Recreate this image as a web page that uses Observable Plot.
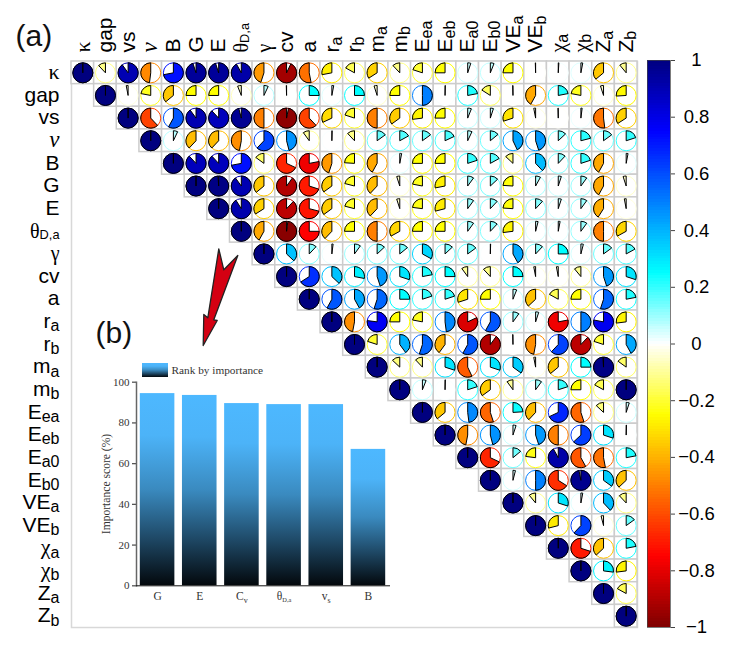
<!DOCTYPE html>
<html><head><meta charset="utf-8">
<script src="https://cdn.jsdelivr.net/npm/d3@7"></script>
<script src="https://cdn.jsdelivr.net/npm/@observablehq/plot@0.6"></script>
<style>
html,body{margin:0;padding:0;background:#fff}
#chart{position:relative;width:729px;height:651px;overflow:hidden}
#chart svg{position:absolute;max-width:none;background:transparent}
</style></head><body><div id="chart"></div>
<script>
// ---- labels
const labelMain = ["κ","gap","vs","ν","B","G","E","θ","γ","cv","a","r","r","m","m","E","E","E","E","VE","VE","χ","χ","Z","Z"];
const labelSub  = ["","","","","","","","D,a","","","","a","b","a","b","ea","eb","a0","b0","a","b","a","b","a","b"];
const keys = labelMain.map((m,i)=>m+labelSub[i]);

// ---- correlation rows, each starting on the diagonal
const rowKappa = [1,-.12,.9,-.48,.72,.95,.95,.92,-.45,-.93,-.53,-.28,-.17,-.34,-.12,-.2,-.25,.05,.06,-.25,-.005,.01,.03,-.36,-.11];
const rowGap   = [1,-.03,-.22,-.36,-.25,-.25,-.06,.07,-.005,.25,.03,.25,-.05,-.25,.5,.005,.22,-.16,-.005,-.42,.22,-.22,-.05,-.26];
const rowVs    = [1,-.62,.58,.9,.88,.96,-.5,-.97,-.62,-.32,-.2,-.5,-.35,-.27,-.25,.06,.05,-.3,-.03,-.005,.02,-.52,-.34];
const rowNu    = [1,.07,-.38,-.38,-.47,.62,.46,-.1,.005,-.12,.15,.17,.15,.18,.07,.14,.43,.45,.13,.21,.15,.2];
const rowB     = [1,.88,.88,.72,-.15,-.68,-.78,-.45,-.24,-.42,.03,-.25,-.25,.2,.17,-.13,.38,.12,.2,-.42,.03];
const rowG     = [1,.99,.9,-.36,-.9,-.7,-.35,-.21,-.38,-.05,-.22,-.28,.1,.13,-.24,.08,.05,.1,-.42,-.05];
const rowE     = [1,.91,-.34,-.88,-.71,-.35,-.21,-.38,-.05,-.23,-.29,.1,.12,-.24,.12,.05,.1,-.41,-.03];
const rowTheta = [1,-.42,-.98,-.75,-.38,-.25,-.5,-.33,-.25,-.25,.1,.12,-.27,.04,.03,.1,-.5,-.33];
const rowGamma = [1,.37,.12,.02,.1,.13,.14,.33,.13,.15,.005,.42,.12,.25,.04,.15,.17];
const rowCv    = [1,.66,.37,.28,.45,.3,.22,.25,-.1,-.12,.25,-.03,-.03,-.11,.45,.3];
const rowA     = [1,.58,.42,.55,.25,.2,.2,-.3,-.25,.06,-.37,-.17,-.25,.55,.22];
const rowRa    = [1,-.47,.77,-.25,-.22,.48,-.82,.58,.1,.05,-.78,.5,.78,-.27];
const rowRb    = [1,-.2,.4,.55,-.4,.58,-.9,-.005,-.47,.62,-.88,-.2,.42];
const rowMa    = [1,-.13,-.12,.3,-.57,.3,.35,-.03,-.36,.25,.99,-.15];
const rowMb    = [1,.06,.005,.2,-.35,-.1,.1,.2,-.25,-.17,1];
const rowEea   = [1,-.36,.48,-.55,.24,-.38,.68,-.55,-.13,.05];
const rowEeb   = [1,-.47,.46,.05,.45,-.5,.63,.3,.005];
const rowEa0   = [1,-.68,.14,-.23,.92,-.58,-.53,.22];
const rowEb0   = [1,.04,.5,-.66,.97,.35,-.37];
const rowVEa   = [1,-.11,.3,.03,.38,-.12];
const rowVEb   = [1,-.29,.62,-.04,.15];
const rowXa    = [1,-.7,-.37,.22];
const rowXb    = [1,.27,-.27];
const rowZa    = [1,-.17];
const rowZb    = [1];
const rows = [rowKappa,rowGap,rowVs,rowNu,rowB,rowG,rowE,rowTheta,rowGamma,rowCv,rowA,rowRa,rowRb,rowMa,rowMb,rowEea,rowEeb,rowEa0,rowEb0,rowVEa,rowVEb,rowXa,rowXb,rowZa,rowZb];

// ---- colour scale
const colorStops = [-1,-.75,-.5,-.25,0,.25,.5,.75,1];
const colorRange = ["#7F0000","#FF0000","#FF7F00","#FFFF00","#FFFFFF","#00FFFF","#007FFF","#0000FF","#00007F"];
const colorTicks = [-1,-.8,-.6,-.4,-.2,0,.2,.4,.6,.8,1];

// ---- bars
const barNames = ["G","E","C","θ","v","B"];
const barSubs  = ["","","v","D,a","s",""];
const barScore = [94.4,93.5,89.5,89,89,67];
const barKeys  = barNames.map((n,i)=>n+barSubs[i]);

// ---- helpers
const cells = rows.flatMap((r,i)=>r.map((v,k)=>({row:keys[i],col:keys[i+k],v})));
const labels = labelMain.map((main,i)=>({key:keys[i],main,sub:labelSub[i]}));
const barLabs = barNames.map((main,i)=>({key:barKeys[i],main,sub:barSubs[i]}));

function wedge(v){
  return {draw(ctx,size){
    const r=Math.sqrt(size/Math.PI), a0=-Math.PI/2;
    ctx.moveTo(0,0); ctx.lineTo(0,-r);
    ctx.arc(0,0,r,a0,a0+2*Math.PI*v,v<0);
    ctx.closePath();
  }};
}
function richText(list,subSize,subDy,fam){
  return function(index,scales,values,dim,ctx,next){
    const g=next(index,scales,values,dim,ctx);
    d3.select(g).selectAll("text").each(function(i){
      const item=list[i];
      const t=d3.select(this); t.text(null);
      const greek=/[κνθγχ]/.test(item.main);
      const m=t.append("tspan").text(item.main);
      if(greek&&fam==="sans"){m.attr("font-family","Liberation Serif");
        if(item.main==="ν"){m.attr("font-style","italic").attr("font-size",23);}
        else m.attr("font-size",/[θγ]/.test(item.main)?20:22);}
      if(item.sub) t.append("tspan").attr("dy",item.sub.includes(",")&&fam==="sans"?"0.1em":subDy).attr("font-size",item.sub.includes(",")?subSize*.8:subSize).text(item.sub);
    });
    return g;
  };
}

// ---- main matrix
const main = Plot.plot({
  width:729,height:651,marginLeft:71,marginRight:92,marginTop:61,marginBottom:24,
  style:{background:"transparent",fontFamily:"Liberation Sans"},
  x:{domain:keys,axis:null,padding:0,round:false},
  y:{domain:keys,axis:null,padding:0,round:false},
  color:{type:"linear",domain:colorStops,range:colorRange},
  marks:[
    Plot.frame({stroke:"#d8d8d8",strokeWidth:1.5}),
    Plot.cell(cells,{x:"col",y:"row",fill:"white",stroke:"#cccccc",strokeWidth:1.5}),
    Plot.dot(cells,{x:"col",y:"row",r:10,fill:"white",stroke:"v",strokeWidth:1}),
    Plot.dot(cells,{x:"col",y:"row",r:10,symbol:d=>wedge(d.v),fill:"v",stroke:"black",strokeWidth:1}),
    Plot.text(labels,{y:"key",text:"main",frameAnchor:"left",textAnchor:"end",lineAnchor:"middle",dx:-12,dy:-0.5,fontSize:21,fill:"black",render:richText(labels,16,"0.2em","sans")}),
    Plot.text(labels,{x:"key",text:"main",frameAnchor:"top",textAnchor:"start",lineAnchor:"middle",rotate:-90,dy:-9,fontSize:21,fill:"black",render:richText(labels,16,"0.2em","sans")})
  ]
});

// ---- colour bar
const barLevels = d3.range(-1,1,0.01);
const cbar = Plot.plot({
  width:89,height:651,marginLeft:7,marginRight:59,marginTop:60,marginBottom:24,
  style:{background:"transparent",fontFamily:"Liberation Sans"},
  x:{domain:[0,1],axis:null},
  y:{domain:[-1,1],axis:null},
  color:{type:"linear",domain:colorStops,range:colorRange},
  marks:[
    Plot.rect(barLevels,{x1:0,x2:1,y1:d=>d,y2:d=>d+0.0105,fill:d=>d+0.005,shapeRendering:"crispEdges"}),
    Plot.frame({stroke:"#444",strokeOpacity:0.7}),
    Plot.axisY(colorTicks,{anchor:"right",tickSize:4,tickPadding:22,textAnchor:"middle",fontSize:18.5,stroke:"#444",fill:"black",tickFormat:d3.format(".1~f")})
  ]
});

// ---- inset bars
const gradientDefs = ()=>{
  const defs=d3.create("svg:defs");
  const g=defs.append("linearGradient").attr("id","rankGrad").attr("x1",0).attr("x2",0).attr("y1",0).attr("y2",1);
  [[0,"#4db8ff"],[.22,"#4cb3f8"],[.5,"#3a8abf"],[.75,"#1f4a68"],[1,"#03080c"]]
    .forEach(([o,c])=>g.append("stop").attr("offset",o).attr("stop-color",c));
  return defs.node();
};
const inset = Plot.plot({
  width:310,height:245,marginLeft:46,marginRight:11,marginTop:11.7,marginBottom:29.7,
  style:{background:"transparent",fontFamily:"Liberation Serif",color:"#333"},
  x:{domain:barKeys,axis:null,paddingInner:.18,paddingOuter:.09,round:false},
  y:{domain:[0,100],axis:null},
  marks:[
    gradientDefs,
    Plot.barY(barKeys,{x:d=>d,y:(d,i)=>barScore[i],fill:"url(#rankGrad)"}),
    Plot.axisY([0,20,40,60,80,100],{anchor:"left",tickSize:4,tickPadding:3,fontSize:11,stroke:"#555",strokeWidth:1.3,fill:"#333",label:null}),
    Plot.frame({anchor:"left",stroke:"#666",strokeWidth:1.5}),
    Plot.frame({anchor:"bottom",stroke:"#111",strokeWidth:1}),
    Plot.text(["Importance score (%)"],{frameAnchor:"left",textAnchor:"middle",lineAnchor:"middle",rotate:-90,dx:-30,fontSize:11.6,fill:"#333"}),
    Plot.text(barLabs,{x:"key",text:"main",frameAnchor:"bottom",lineAnchor:"middle",dy:11,fontSize:11.5,fill:"#333",render:richText(barLabs,8,"0.3em","serif")})
  ]
});

// ---- annotations: panel tags, arrow, inset legend
const arrowX = [202.7,203.3,207.3,218.3,223.3,237.3,213.3,216.7,202.7];
const arrowY = [345,314,317.3,248.3,269.3,255,319.3,320,345];
const panelTags = ["(a)","(b)"], tagX=[15,95], tagY=[45,342];
const overlay = Plot.plot({
  width:729,height:651,margin:0,
  style:{background:"transparent",fontFamily:"Liberation Sans"},
  x:{domain:[0,729],range:[0,729],axis:null},
  y:{domain:[0,651],range:[0,651],axis:null},
  marks:[
    Plot.line(arrowX,{x:d=>d,y:(d,i)=>arrowY[i],fill:"#d40012",stroke:"#222",strokeWidth:1.3,curve:"linear"}),
    Plot.text(panelTags,{x:(d,i)=>tagX[i],y:(d,i)=>tagY[i],textAnchor:"start",lineAnchor:"bottom",fontSize:30,fill:"#111"}),
    Plot.rect([0],{x1:142,x2:168,y1:363,y2:377,fill:"url(#rankGrad)"}),
    Plot.text(["Rank by importance"],{x:171,y:370,textAnchor:"start",fontSize:11.3,fontFamily:"Liberation Serif",fill:"#333"})
  ]
});
const root=document.getElementById("chart");
root.append(main,cbar,inset,overlay);
main.style.left="0";main.style.top="0";
cbar.style.left="640px";cbar.style.top="0";
inset.style.left="90px";inset.style.top="370px";
overlay.style.left="0";overlay.style.top="0";overlay.style.pointerEvents="none";
</script></body></html>
